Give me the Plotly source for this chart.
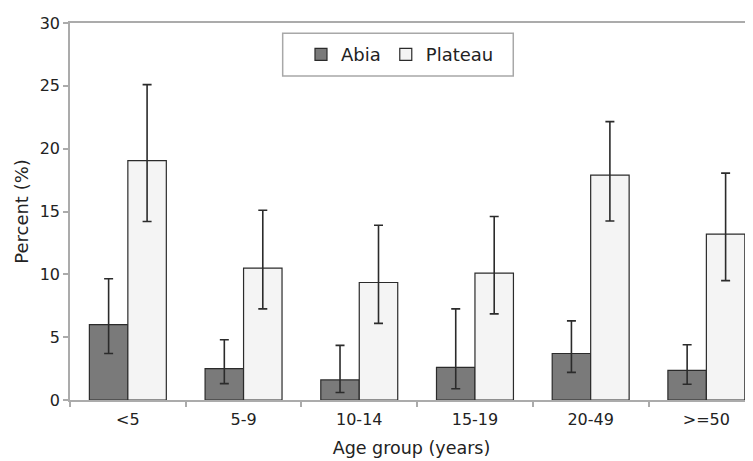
import plotly.graph_objects as go

categories = ["<5", "5-9", "10-14", "15-19", "20-49", ">=50"]
abia = [6.0, 2.5, 1.6, 2.6, 3.7, 2.35]
abia_hi = [9.65, 4.8, 4.35, 7.25, 6.3, 4.4]
abia_lo = [3.7, 1.3, 0.6, 0.9, 2.2, 1.25]
plateau = [19.05, 10.5, 9.35, 10.1, 17.9, 13.2]
plateau_hi = [25.1, 15.1, 13.9, 14.6, 22.15, 18.05]
plateau_lo = [14.2, 7.25, 6.1, 6.85, 14.25, 9.5]

FONT = "DejaVu Sans, Liberation Sans, Arial, sans-serif"

def err(vals, hi, lo):
    return dict(type="data", symmetric=False,
                array=[h - v for h, v in zip(hi, vals)],
                arrayminus=[v - l for v, l in zip(vals, lo)],
                color="#2b2b2b", thickness=1.6, width=4.5)

fig = go.Figure()
fig.add_trace(go.Bar(x=categories, y=abia, name="Abia",
                     marker=dict(color="#7a7a7a", line=dict(color="#2b2b2b", width=1.2)),
                     error_y=err(abia, abia_hi, abia_lo)))
fig.add_trace(go.Bar(x=categories, y=plateau, name="Plateau",
                     marker=dict(color="#f4f4f4", line=dict(color="#2b2b2b", width=1.2)),
                     error_y=err(plateau, plateau_hi, plateau_lo)))

# legend frame
fig.add_shape(type="rect", xref="paper", yref="paper",
              x0=0.3114, x1=0.649, y0=0.8597, y1=0.9727,
              line=dict(color="#a8a8a8", width=1.5), fillcolor="white", layer="above")

fig.update_layout(
    width=745, height=453,
    margin=dict(l=62, r=0, t=15, b=61),
    paper_bgcolor="white", plot_bgcolor="white",
    barmode="group", bargap=0.335, bargroupgap=0,
    font=dict(family=FONT, size=16, color="#222"),
    showlegend=True,
    legend=dict(orientation="h", x=0.3382, y=0.916, xanchor="left", yanchor="middle",
                borderwidth=0, bgcolor="rgba(0,0,0,0)",
                font=dict(family=FONT, size=18, color="#222"),
                traceorder="normal"),
    xaxis=dict(range=[-0.5, 5.403], showline=True, linecolor="#ababab", linewidth=1.5,
               mirror=True, ticks="outside", tickson="boundaries", ticklen=5,
               tickcolor="#ababab", tickwidth=1.5, showgrid=False,
               ticklabelstandoff=4,
               title=dict(text="Age group (years)", standoff=14, font=dict(size=17.5)),
               tickfont=dict(size=16)),
    yaxis=dict(range=[0, 30], dtick=5, showline=True, linecolor="#ababab", linewidth=1.5,
               ticks="outside", ticklen=5, tickcolor="#ababab", tickwidth=1.5,
               showgrid=False, zeroline=False,
               title=dict(text="Percent (%)", standoff=6, font=dict(size=18)),
               tickfont=dict(size=16)),
)

fig.write_html("out.html")
